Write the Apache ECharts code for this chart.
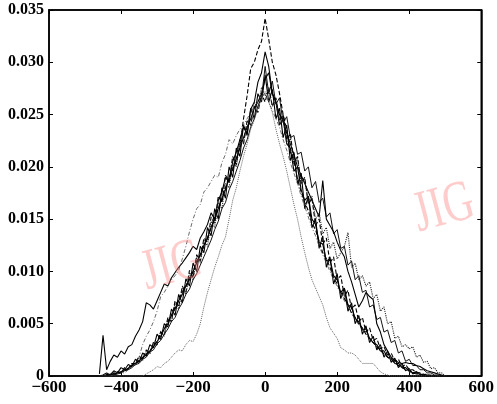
<!DOCTYPE html>
<html>
<head>
<meta charset="utf-8">
<script src="https://cdn.jsdelivr.net/npm/echarts@6/dist/echarts.min.js"></script>
<style>
html,body{margin:0;padding:0;background:#fff;}
#chart{width:497px;height:404px;}
</style>
</head>
<body>
<div id="chart"></div>
<script>
// x positions (units of the x axis)
const xValues = [
 -460,-450,-440,-430,-420,-410,-400,-390,-380,-370,
 -360,-350,-340,-330,-320,-310,-300,-290,-280,-270,
 -260,-250,-240,-230,-220,-210,-200,-190,-180,-170,
 -160,-150,-140,-130,-120,-110,-100,-90,-80,-70,
 -60,-50,-40,-30,-20,-10,0,
 10,20,30,40,50,60,70,80,90,100,
 110,120,130,140,150,160,170,180,190,200,
 210,220,230,240,250,260,270,280,290,300,
 310,320,330,340,350,360,370,380,390,400,
 410,420,430,440,450,460,470,480,490,500
];
// series values, in units of 1e-4 (y axis is drawn in the same units)
const seriesA = [
 2,39,6,14,20,18,24,21,28,30,
 38,44,52,70,68,64,72,80,88,86,
 94,99,104,108,113,118,124,121,132,138,
 145,156,150,168,176,190,185,205,214,226,
 238,232,255,262,281,290,
 310,
 296,270,262,240,246,222,218,196,200,178,
 168,172,150,145,128,126,110,112,96,92,
 80,84,68,66,55,52,44,45,36,32,
 30,24,24,18,17,12,12,8,8,5,
 3,4,2,1,1,0,0,0,0,0
];
const seriesB = [
 0,0,1,1,2,3,4,6,7,10,
 12,14,18,20,24,28,33,38,45,50,
 58,64,72,78,86,92,100,108,116,125,
 132,142,150,160,170,178,190,198,208,218,
 228,238,246,256,262,270,
 284,
 290,270,262,250,244,232,222,212,200,192,
 184,176,168,160,152,187,150,144,138,128,
 120,114,100,90,78,66,72,80,76,73,
 50,42,30,24,18,15,13,12,13,12,
 12,10,9,7,5,4,3,2,1,0
];
const seriesC = [
 0,0,0,2,1,4,3,7,6,11,
 10,17,15,24,21,32,29,43,38,55,
 52,70,64,84,78,99,92,114,108,130,
 124,148,142,166,160,184,180,204,200,224,
 222,244,240,262,256,276,
 268,
 274,258,262,240,246,222,228,202,208,184,
 188,166,172,150,156,136,142,122,128,112,
 118,124,137,104,108,92,96,86,90,74,
 78,62,66,50,52,36,38,28,30,26,
 28,18,20,13,14,7,8,3,3,0
];
const seriesD = [
 0,0,0,0,0,0,0,0,0,0,
 0,0,0,2,4,6,9,8,12,14,
 18,22,25,24,30,34,33,40,50,66,
 80,92,104,114,125,133,150,168,180,196,
 210,222,236,245,256,264,
 272,
 262,252,236,222,210,196,180,164,150,133,
 118,104,92,84,76,68,56,46,41,36,
 27,25,22,22,20,16,12,12,12,12,
 8,4,2,1,0,0,0,0,0,0,
 0,0,0,0,0,0,0,0,0,0
];
const seriesE = [
 0,0,0,0,1,2,3,3,6,8,
 12,18,30,38,44,52,62,76,80,86,
 92,96,101,112,124,138,150,160,164,176,
 180,186,192,190,204,212,226,222,230,236,
 240,246,252,258,262,268,
 270,
 262,254,246,238,226,216,204,194,184,172,
 162,152,142,134,124,116,108,100,92,86,
 78,72,66,60,54,49,44,40,36,32,
 28,24,21,18,15,12,10,8,6,4,
 3,2,2,1,1,0,0,0,0,0
];
const seriesF = [
 0,0,1,1,2,2,4,5,7,10,
 12,15,17,21,24,29,33,40,45,52,
 58,66,72,80,86,94,100,110,116,124,
 132,142,150,160,168,180,188,198,206,220,
 246,268,294,300,312,320,
 342,
 322,300,288,270,250,236,214,206,188,176,
 166,158,146,140,128,118,112,104,94,88,
 80,74,68,60,56,50,46,40,36,32,
 28,25,21,18,16,13,10,8,6,5,
 3,2,2,1,0,0,0,0,0,0
];
const seriesG = [
 0,1,3,1,5,3,8,6,11,9,
 16,13,22,19,30,27,40,35,50,47,
 64,58,78,70,93,86,108,100,124,118,
 142,134,160,150,180,170,200,190,218,210,
 240,230,256,246,270,262,
 288,
 262,274,246,256,228,240,206,214,184,194,
 160,172,142,150,122,134,104,114,88,98,
 74,84,62,70,50,58,40,48,32,38,
 25,30,18,24,13,17,8,12,5,7,
 2,4,1,2,0,1,0,0,0,0
];
const seriesH = [
 0,0,2,0,3,4,3,8,7,12,
 12,19,16,25,22,32,30,42,39,56,
 52,72,66,86,80,101,94,116,110,132,
 128,152,146,172,166,192,186,210,202,226,
 222,244,240,258,252,270,
 262,
 276,258,266,244,250,226,232,204,210,184,
 190,164,170,144,150,126,132,108,114,92,
 96,76,82,64,68,52,56,42,46,34,
 36,26,28,20,22,14,16,9,11,6,
 6,3,3,1,2,0,0,0,0,0
];
const seriesI = [
 0,0,0,1,1,2,3,5,6,8,
 11,12,16,18,23,25,31,34,40,45,
 52,56,64,70,78,83,92,98,106,114,
 122,130,140,148,160,166,178,186,196,206,
 218,226,238,246,258,266,
 296,
 270,282,260,266,242,248,228,230,212,214,
 196,200,180,186,166,170,152,156,136,140,
 122,124,106,110,92,96,80,82,66,68,
 54,56,42,44,32,34,22,24,14,16,
 10,10,6,6,3,3,1,1,0,0
];
// tick labels
const xTickValues = [-600,-400,-200,0,200,400,600];
const xTickLabels = ['\u2212600','\u2212400','\u2212200','0','200','400','600'];
const yTickValues = [0,50,100,150,200,250,300,350];
const yTickLabels = ['0','0.005','0.010','0.015','0.020','0.025','0.030','0.035'];
const watermarkText = 'JIG';

const allSeries = [
  {data: seriesG, type: 'solid', color: '#000', width: 1.1},
  {data: seriesH, type: 'dashed', color: '#000', width: 1.1},
  {data: seriesI, type: 'solid', color: '#111', width: 1},
  {data: seriesA, type: 'solid', color: '#000', width: 1.1},
  {data: seriesB, type: 'solid', color: '#000', width: 1.1},
  {data: seriesC, type: 'dotted', color: '#222', width: 1.1},
  {data: seriesD, type: 'dotted', color: '#666', width: 1},
  {data: seriesE, type: [4,2,1,2], color: '#444', width: 0.8},
  {data: seriesF, type: 'dashed', color: '#000', width: 1.1}
];

const labelFont = {fontFamily: '"Liberation Serif", "Times New Roman", serif', fontWeight: 'bold', color: '#000'};

function lookup(vals, labels, v){
  const i = vals.indexOf(Math.round(v));
  return i >= 0 ? labels[i] : '';
}

const axisLineStyle = {show: true, onZero: false, lineStyle: {color: '#000', width: 1.5}};
const tickStyle = {show: true, inside: true, length: 4, lineStyle: {color: '#000'}};

const chart = echarts.init(document.getElementById('chart'), null, {renderer: 'canvas'});
chart.setOption({
  animation: false,
  backgroundColor: '#fff',
  grid: {left: 49, right: 9, top: 10, bottom: 28, show: true, borderColor: '#000', borderWidth: 1.5, backgroundColor: 'transparent'},
  xAxis: [
    {type: 'value', min: -600, max: 600, interval: 200, position: 'bottom',
     axisLine: axisLineStyle, axisTick: tickStyle, splitLine: {show: false},
     axisLabel: Object.assign({fontSize: 17, margin: 3, formatter: v => lookup(xTickValues, xTickLabels, v)}, labelFont)},
    {type: 'value', min: -600, max: 600, interval: 200, position: 'top',
     axisLine: axisLineStyle, axisTick: tickStyle, splitLine: {show: false}, axisLabel: {show: false}}
  ],
  yAxis: [
    {type: 'value', min: 0, max: 350, interval: 50, position: 'left',
     axisLine: axisLineStyle, axisTick: tickStyle, splitLine: {show: false},
     axisLabel: Object.assign({fontSize: 16, margin: 5, formatter: v => lookup(yTickValues, yTickLabels, v)}, labelFont)},
    {type: 'value', min: 0, max: 350, interval: 50, position: 'right',
     axisLine: axisLineStyle, axisTick: tickStyle, splitLine: {show: false}, axisLabel: {show: false}}
  ],
  series: allSeries.map(s => ({
    type: 'line', xAxisIndex: 0, yAxisIndex: 0,
    showSymbol: false, symbol: 'none', smooth: false,
    data: xValues.map((x, i) => [x, s.data[i]]),
    lineStyle: {color: s.color, width: s.width, type: s.type},
    silent: true
  })),
  graphic: [
    {type: 'text', x: 172, y: 267, rotation: 0.26, scaleX: 0.72, z: 100,
     style: {text: watermarkText, font: '58px "Liberation Serif"', fill: 'rgba(255,120,120,0.38)', textAlign: 'center', textVerticalAlign: 'middle'}},
    {type: 'text', x: 444, y: 209, rotation: 0.26, scaleX: 0.72, z: 100,
     style: {text: watermarkText, font: '58px "Liberation Serif"', fill: 'rgba(255,120,120,0.38)', textAlign: 'center', textVerticalAlign: 'middle'}}
  ]
});
</script>
</body>
</html>
